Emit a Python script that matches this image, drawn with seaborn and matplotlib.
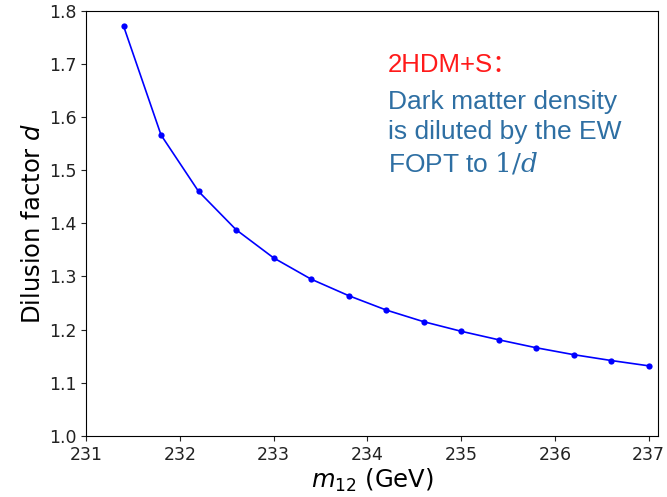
import pandas as pd
import matplotlib.pyplot as plt
import seaborn as sns

# chart data
m12 = [231.4, 231.8, 232.2, 232.6, 233.0, 233.4, 233.8, 234.2,
       234.6, 235.0, 235.4, 235.8, 236.2, 236.6, 237.0]
dilution = [1.771, 1.566, 1.460, 1.388, 1.335, 1.295, 1.264, 1.237,
            1.215, 1.197, 1.181, 1.166, 1.153, 1.142, 1.132]
x_ticks = [231, 232, 233, 234, 235, 236, 237]
y_ticks = [1.0, 1.1, 1.2, 1.3, 1.4, 1.5, 1.6, 1.7, 1.8]

df = pd.DataFrame({'m12': m12, 'd': dilution})

fig = plt.figure(figsize=(6.67, 4.97), dpi=100)
ax = fig.add_axes([0.129, 0.1227, 0.8575, 0.856])

sns.lineplot(data=df, x='m12', y='d', ax=ax, color='blue', linewidth=1.2,
             marker='o', markersize=4.5, markeredgewidth=0)

ax.set_xlim(231, 237.1)
ax.set_ylim(1.0, 1.8)
ax.set_xticks(x_ticks)
ax.set_yticks(y_ticks)
ax.set_yticklabels([f'{v:.1f}' for v in y_ticks])
ax.tick_params(labelsize=12.5, colors='#222222', labelcolor='#222222')
ax.set_xlabel('$m_{12}$ (GeV)', fontsize=17.5, labelpad=2)
ax.set_ylabel('Dilusion factor $d$', fontsize=17.5, labelpad=3)

ax.text(0.528, 0.856, '2HDM+S：', transform=ax.transAxes, color='#ff1a1a',
        fontsize=18.5, family=['Liberation Sans', 'Noto Sans CJK SC'], va='baseline')
# multi-line baseline alignment anchors the last line
ax.text(0.528, 0.621, 'Dark matter density\nis diluted by the EW\nFOPT to $1/d$',
        transform=ax.transAxes, color='#2e6fa3', fontsize=19,
        family='Liberation Sans', math_fontfamily='dejavuserif',
        va='baseline', linespacing=1.32)

fig.savefig('out.png', dpi=100)
plt.close(fig)
